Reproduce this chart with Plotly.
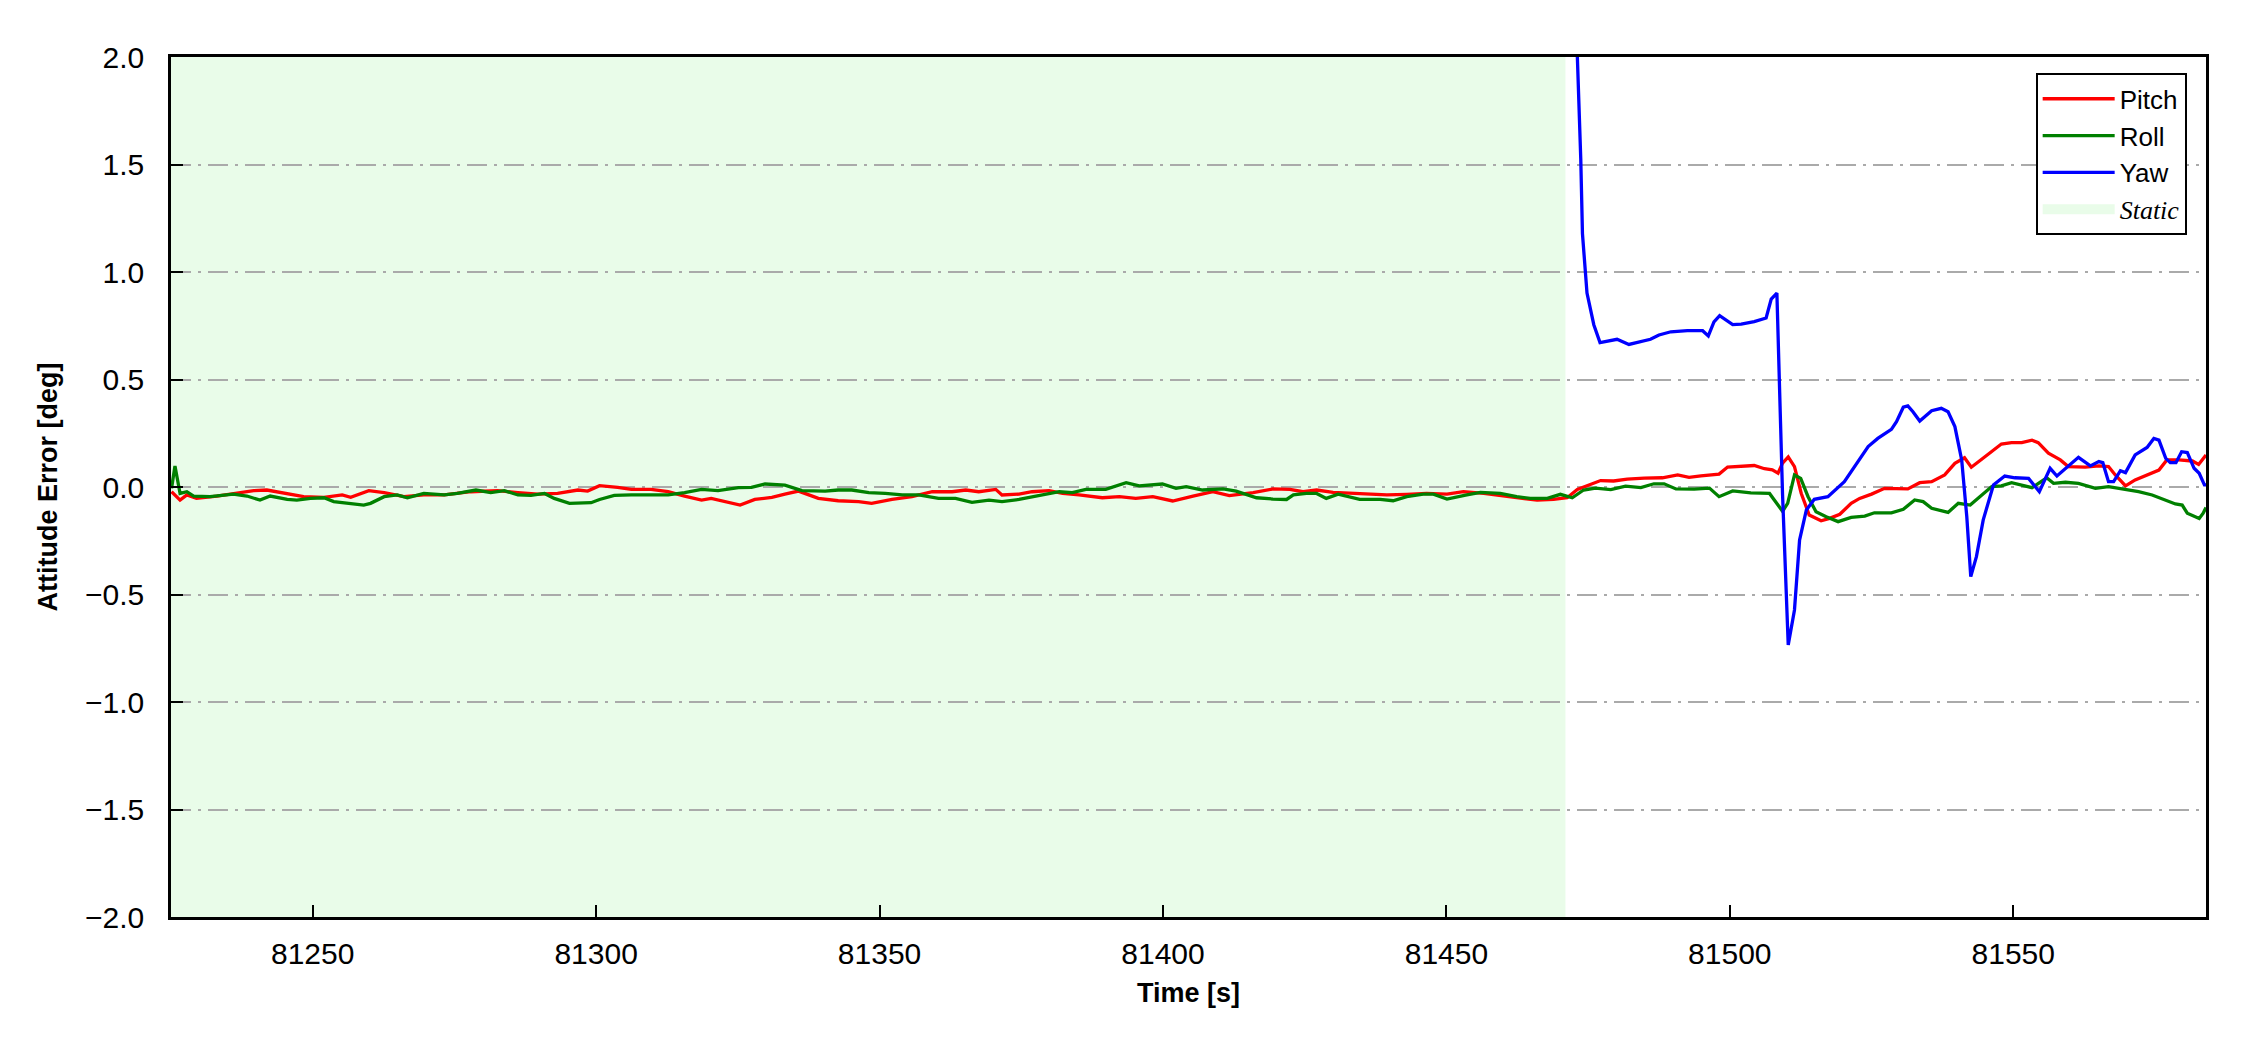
import plotly.graph_objects as go

# ---------------- data ----------------
pitch_t = [81225.1, 81226.6, 81227.8, 81229.5, 81233.1, 81236.0, 81239.6, 81241.9, 81244.9, 81248.4,
           81252.0, 81255.2, 81256.7, 81259.9, 81262.6, 81266.1, 81269.6, 81273.2, 81277.9, 81282.6,
           81286.2, 81289.7, 81293.2, 81296.8, 81298.5, 81300.6, 81303.8, 81306.2, 81309.7, 81312.7,
           81315.6, 81318.6, 81320.3, 81322.7, 81325.4, 81328.0, 81331.0, 81333.3, 81335.7, 81339.2,
           81342.7, 81346.3, 81348.6, 81352.2, 81355.7, 81359.3, 81362.8, 81365.2, 81367.5, 81370.5,
           81371.6, 81374.6, 81376.9, 81379.9, 81382.3, 81385.2, 81389.3, 81392.3, 81395.2, 81398.2,
           81401.7, 81405.3, 81408.8, 81411.7, 81415.9, 81419.4, 81422.4, 81424.7, 81427.1, 81430.0,
           81433.6, 81436.5, 81439.5, 81443.0, 81446.5, 81450.1, 81453.0, 81456.6, 81459.5, 81462.4,
           81466.0, 81468.9, 81471.3, 81473.1, 81475.4, 81477.2, 81479.5, 81481.9, 81484.9, 81488.1,
           81490.8, 81492.8, 81494.9, 81498.1, 81499.6, 81502.5, 81504.3, 81506.1, 81507.5, 81508.5,
           81509.3, 81510.3, 81511.4, 81512.6, 81514.0, 81516.1, 81517.6, 81519.4, 81521.4, 81522.9,
           81525.0, 81527.3, 81529.7, 81531.4, 81533.5, 81535.6, 81537.9, 81539.7, 81541.4, 81542.6,
           81545.0, 81546.2, 81547.9, 81549.7, 81551.5, 81553.3, 81554.4, 81556.2, 81558.3, 81559.7,
           81562.7, 81565.1, 81566.8, 81568.0, 81569.8, 81571.5, 81573.3, 81575.7, 81577.1, 81579.2,
           81581.6, 81582.7, 81584.0]
pitch_v = [-0.022, -0.061, -0.037, -0.053, -0.042, -0.030, -0.017, -0.014, -0.030, -0.045,
           -0.048, -0.037, -0.048, -0.017, -0.026, -0.045, -0.037, -0.037, -0.022, -0.017,
           -0.026, -0.033, -0.030, -0.014, -0.019, 0.006, -0.002, -0.011, -0.011, -0.022,
           -0.042, -0.061, -0.053, -0.068, -0.084, -0.058, -0.048, -0.033, -0.019, -0.053,
           -0.064, -0.068, -0.076, -0.058, -0.045, -0.022, -0.022, -0.014, -0.022, -0.011,
           -0.037, -0.033, -0.022, -0.017, -0.030, -0.037, -0.050, -0.045, -0.053, -0.045,
           -0.065, -0.042, -0.022, -0.040, -0.026, -0.009, -0.011, -0.022, -0.014, -0.025,
           -0.030, -0.033, -0.037, -0.034, -0.030, -0.033, -0.022, -0.030, -0.040, -0.048,
           -0.061, -0.058, -0.050, -0.011, 0.013, 0.030, 0.028, 0.037, 0.041, 0.043,
           0.056, 0.045, 0.052, 0.060, 0.093, 0.098, 0.100, 0.085, 0.080, 0.064,
           0.111, 0.140, 0.095, -0.030, -0.130, -0.157, -0.146, -0.127, -0.076, -0.053,
           -0.033, -0.006, -0.009, -0.009, 0.020, 0.025, 0.056, 0.110, 0.136, 0.092,
           0.141, 0.164, 0.200, 0.206, 0.206, 0.218, 0.206, 0.157, 0.126, 0.095,
           0.092, 0.098, 0.095, 0.056, 0.005, 0.033, 0.051, 0.079, 0.126, 0.126,
           0.121, 0.105, 0.149]

roll_t = [81225.1, 81225.7, 81226.6, 81227.8, 81229.0, 81231.9, 81236.0, 81238.4, 81240.7, 81242.5,
          81245.5, 81247.2, 81249.6, 81252.0, 81253.7, 81256.7, 81259.0, 81260.2, 81262.6, 81264.9,
          81266.7, 81269.6, 81273.2, 81275.5, 81278.8, 81281.4, 81283.8, 81286.2, 81288.5, 81290.9,
          81292.6, 81295.3, 81297.4, 81299.1, 81300.6, 81303.2, 81306.2, 81309.7, 81312.7, 81315.6,
          81318.6, 81321.5, 81325.1, 81327.4, 81329.8, 81333.3, 81336.3, 81340.4, 81342.7, 81345.1,
          81348.1, 81351.0, 81354.0, 81356.9, 81360.4, 81363.4, 81366.3, 81369.3, 81371.6, 81374.6,
          81377.5, 81381.7, 81384.0, 81386.4, 81389.9, 81393.5, 81395.8, 81398.2, 81399.9, 81402.3,
          81404.1, 81407.0, 81410.6, 81412.9, 81416.5, 81419.4, 81421.8, 81423.0, 81425.3, 81427.1,
          81428.8, 81430.9, 81434.7, 81438.3, 81440.6, 81443.0, 81445.9, 81447.7, 81450.1, 81453.6,
          81456.0, 81459.5, 81462.4, 81464.8, 81467.8, 81470.1, 81472.2, 81474.2, 81476.3, 81479.0,
          81481.6, 81484.3, 81486.6, 81488.4, 81490.5, 81493.7, 81496.4, 81498.1, 81500.5, 81503.7,
          81507.0, 81509.3, 81510.2, 81511.4, 81512.5, 81513.8, 81515.2, 81517.0, 81519.1, 81521.4,
          81523.8, 81525.5, 81528.5, 81530.6, 81532.6, 81534.1, 81535.6, 81538.5, 81540.3, 81542.4,
          81544.1, 81546.2, 81547.9, 81549.7, 81553.3, 81555.9, 81557.1, 81559.2, 81561.5, 81564.5,
          81566.8, 81568.6, 81569.8, 81572.1, 81574.5, 81576.9, 81578.6, 81579.8, 81580.7, 81582.8,
          81583.5, 81584.0]
roll_v = [-0.006, 0.098, -0.030, -0.022, -0.042, -0.045, -0.033, -0.042, -0.061, -0.042,
          -0.058, -0.061, -0.053, -0.050, -0.068, -0.079, -0.084, -0.076, -0.045, -0.037,
          -0.050, -0.030, -0.037, -0.030, -0.014, -0.026, -0.017, -0.037, -0.039, -0.030,
          -0.053, -0.076, -0.073, -0.073, -0.058, -0.039, -0.037, -0.037, -0.037, -0.026,
          -0.011, -0.017, -0.003, -0.002, 0.014, 0.009, -0.017, -0.019, -0.014, -0.014,
          -0.026, -0.030, -0.037, -0.037, -0.053, -0.053, -0.071, -0.061, -0.068, -0.058,
          -0.042, -0.022, -0.026, -0.011, -0.011, 0.020, 0.005, 0.009, 0.014, -0.006,
          0.002, -0.014, -0.009, -0.019, -0.050, -0.056, -0.058, -0.037, -0.030, -0.030,
          -0.053, -0.033, -0.058, -0.058, -0.064, -0.045, -0.033, -0.033, -0.056, -0.037,
          -0.025, -0.030, -0.045, -0.053, -0.053, -0.034, -0.050, -0.014, -0.005, -0.012,
          0.004, -0.003, 0.015, 0.015, -0.009, -0.010, -0.005, -0.045, -0.018, -0.027,
          -0.030, -0.113, -0.076, 0.056, 0.040, -0.045, -0.115, -0.138, -0.161, -0.141,
          -0.135, -0.120, -0.120, -0.104, -0.060, -0.068, -0.099, -0.118, -0.076, -0.084,
          -0.045, 0.002, 0.005, 0.020, -0.003, 0.043, 0.017, 0.022, 0.017, -0.006,
          0.002, -0.006, -0.014, -0.022, -0.037, -0.060, -0.079, -0.084, -0.122, -0.146,
          -0.122, -0.095]

yaw_t = [81472.6, 81473.1, 81473.7, 81474.0, 81474.8, 81476.0, 81477.1, 81480.1, 81482.2, 81486.0,
         81487.5, 81489.6, 81492.5, 81495.2, 81496.2, 81497.2, 81498.2, 81500.5, 81502.0, 81504.3,
         81506.4, 81507.3, 81508.3, 81509.3, 81510.3, 81511.4, 81512.3, 81513.5, 81514.9, 81517.3,
         81520.2, 81522.0, 81524.4, 81526.1, 81528.5, 81529.4, 81530.6, 81531.4, 81532.3, 81533.5,
         81535.6, 81537.3, 81538.5, 81539.7, 81540.9, 81541.8, 81542.5, 81543.5, 81544.7, 81546.5,
         81548.5, 81550.3, 81552.7, 81554.6, 81556.5, 81557.7, 81559.7, 81561.5, 81563.6, 81565.1,
         81565.8, 81566.8, 81567.7, 81568.9, 81569.8, 81571.5, 81573.6, 81574.8, 81575.7, 81576.9,
         81577.7, 81578.7, 81579.7, 81580.7, 81581.9, 81582.8, 81583.8, 81584.0]
yaw_v = [3.000, 2.000, 1.527, 1.178, 0.902, 0.755, 0.672, 0.687, 0.663, 0.687,
         0.707, 0.722, 0.727, 0.727, 0.703, 0.768, 0.797, 0.755, 0.758, 0.769,
         0.786, 0.874, 0.902, -0.036, -0.735, -0.572, -0.247, -0.107, -0.057, -0.045,
         0.025, 0.095, 0.188, 0.226, 0.268, 0.304, 0.371, 0.377, 0.350, 0.307,
         0.355, 0.366, 0.350, 0.281, 0.126, -0.138, -0.417, -0.324, -0.153, 0.009,
         0.051, 0.043, 0.040, -0.022, 0.087, 0.051, 0.095, 0.138, 0.098, 0.118,
         0.113, 0.025, 0.025, 0.076, 0.067, 0.149, 0.184, 0.226, 0.218, 0.133,
         0.113, 0.113, 0.164, 0.160, 0.087, 0.064, 0.005, 0.017]

static_span = [81225.0, 81471.0]
x_range = [81225.0, 81584.0]
y_range = [-2.0, 2.0]
x_ticks = [81250, 81300, 81350, 81400, 81450, 81500, 81550]
y_ticks = [-2.0, -1.5, -1.0, -0.5, 0.0, 0.5, 1.0, 1.5, 2.0]

# ---------------- figure ----------------
FONT = "Liberation Sans, Arial, sans-serif"
STATIC_FILL = "rgb(233,252,233)"
LW = 3.3
fig = go.Figure()

fig.add_trace(go.Scatter(x=pitch_t, y=pitch_v, mode="lines", name="Pitch",
                         line=dict(color="#ff0000", width=LW), legendrank=1))
fig.add_trace(go.Scatter(x=roll_t, y=roll_v, mode="lines", name="Roll",
                         line=dict(color="#008000", width=LW), legendrank=2))
fig.add_trace(go.Scatter(x=yaw_t, y=yaw_v, mode="lines", name="Yaw",
                         line=dict(color="#0000ff", width=LW), legendrank=3))
# legend entry for the static span (the span itself is drawn as a shape below the grid)
fig.add_trace(go.Scatter(x=[None], y=[None], mode="lines",
                         line=dict(width=20, color=STATIC_FILL),
                         legendrank=4,
                         name='<span style="font-family:Liberation Serif, Times New Roman, serif"><i>Static</i></span>'))

fig.add_shape(type="rect", xref="x", yref="y",
              x0=static_span[0], x1=static_span[1], y0=y_range[0], y1=y_range[1],
              fillcolor=STATIC_FILL, line=dict(width=0), layer="below")

fig.update_layout(
    width=2234, height=1034,
    margin=dict(l=163, r=36, t=49, b=125),
    paper_bgcolor="white", plot_bgcolor="white",
    font=dict(family=FONT, size=30, color="black"),
    showlegend=True,
    legend=dict(x=0.9905, y=0.981, xanchor="right", yanchor="top",
                bgcolor="white", bordercolor="black", borderwidth=2,
                font=dict(family=FONT, size=26, color="black"),
                tracegroupgap=0, itemwidth=72),
)

fig.update_xaxes(
    range=x_range, tickvals=x_ticks, ticktext=[str(v) for v in x_ticks],
    showgrid=False, zeroline=False,
    showline=True, linecolor="black", linewidth=2.5, mirror=True,
    ticks="inside", ticklen=12, tickwidth=2, tickcolor="black",
    ticklabelstandoff=8,
    tickfont=dict(family=FONT, size=30),
    title=dict(text="<b>Time [s]</b>", font=dict(family=FONT, size=27), standoff=15),
)
fig.update_yaxes(
    range=y_range, tickvals=y_ticks, tickformat=".1f",
    showgrid=True, gridcolor="#aaaaaa", gridwidth=2, griddash="20px,7px,3px,7px",
    zeroline=False,
    showline=True, linecolor="black", linewidth=2.5, mirror=True,
    ticks="inside", ticklen=12, tickwidth=2, tickcolor="black",
    ticklabelstandoff=18,
    tickfont=dict(family=FONT, size=30),
    title=dict(text="<b>Attitude Error [deg]</b>", font=dict(family=FONT, size=27), standoff=20),
)

fig.write_html("out.html")
